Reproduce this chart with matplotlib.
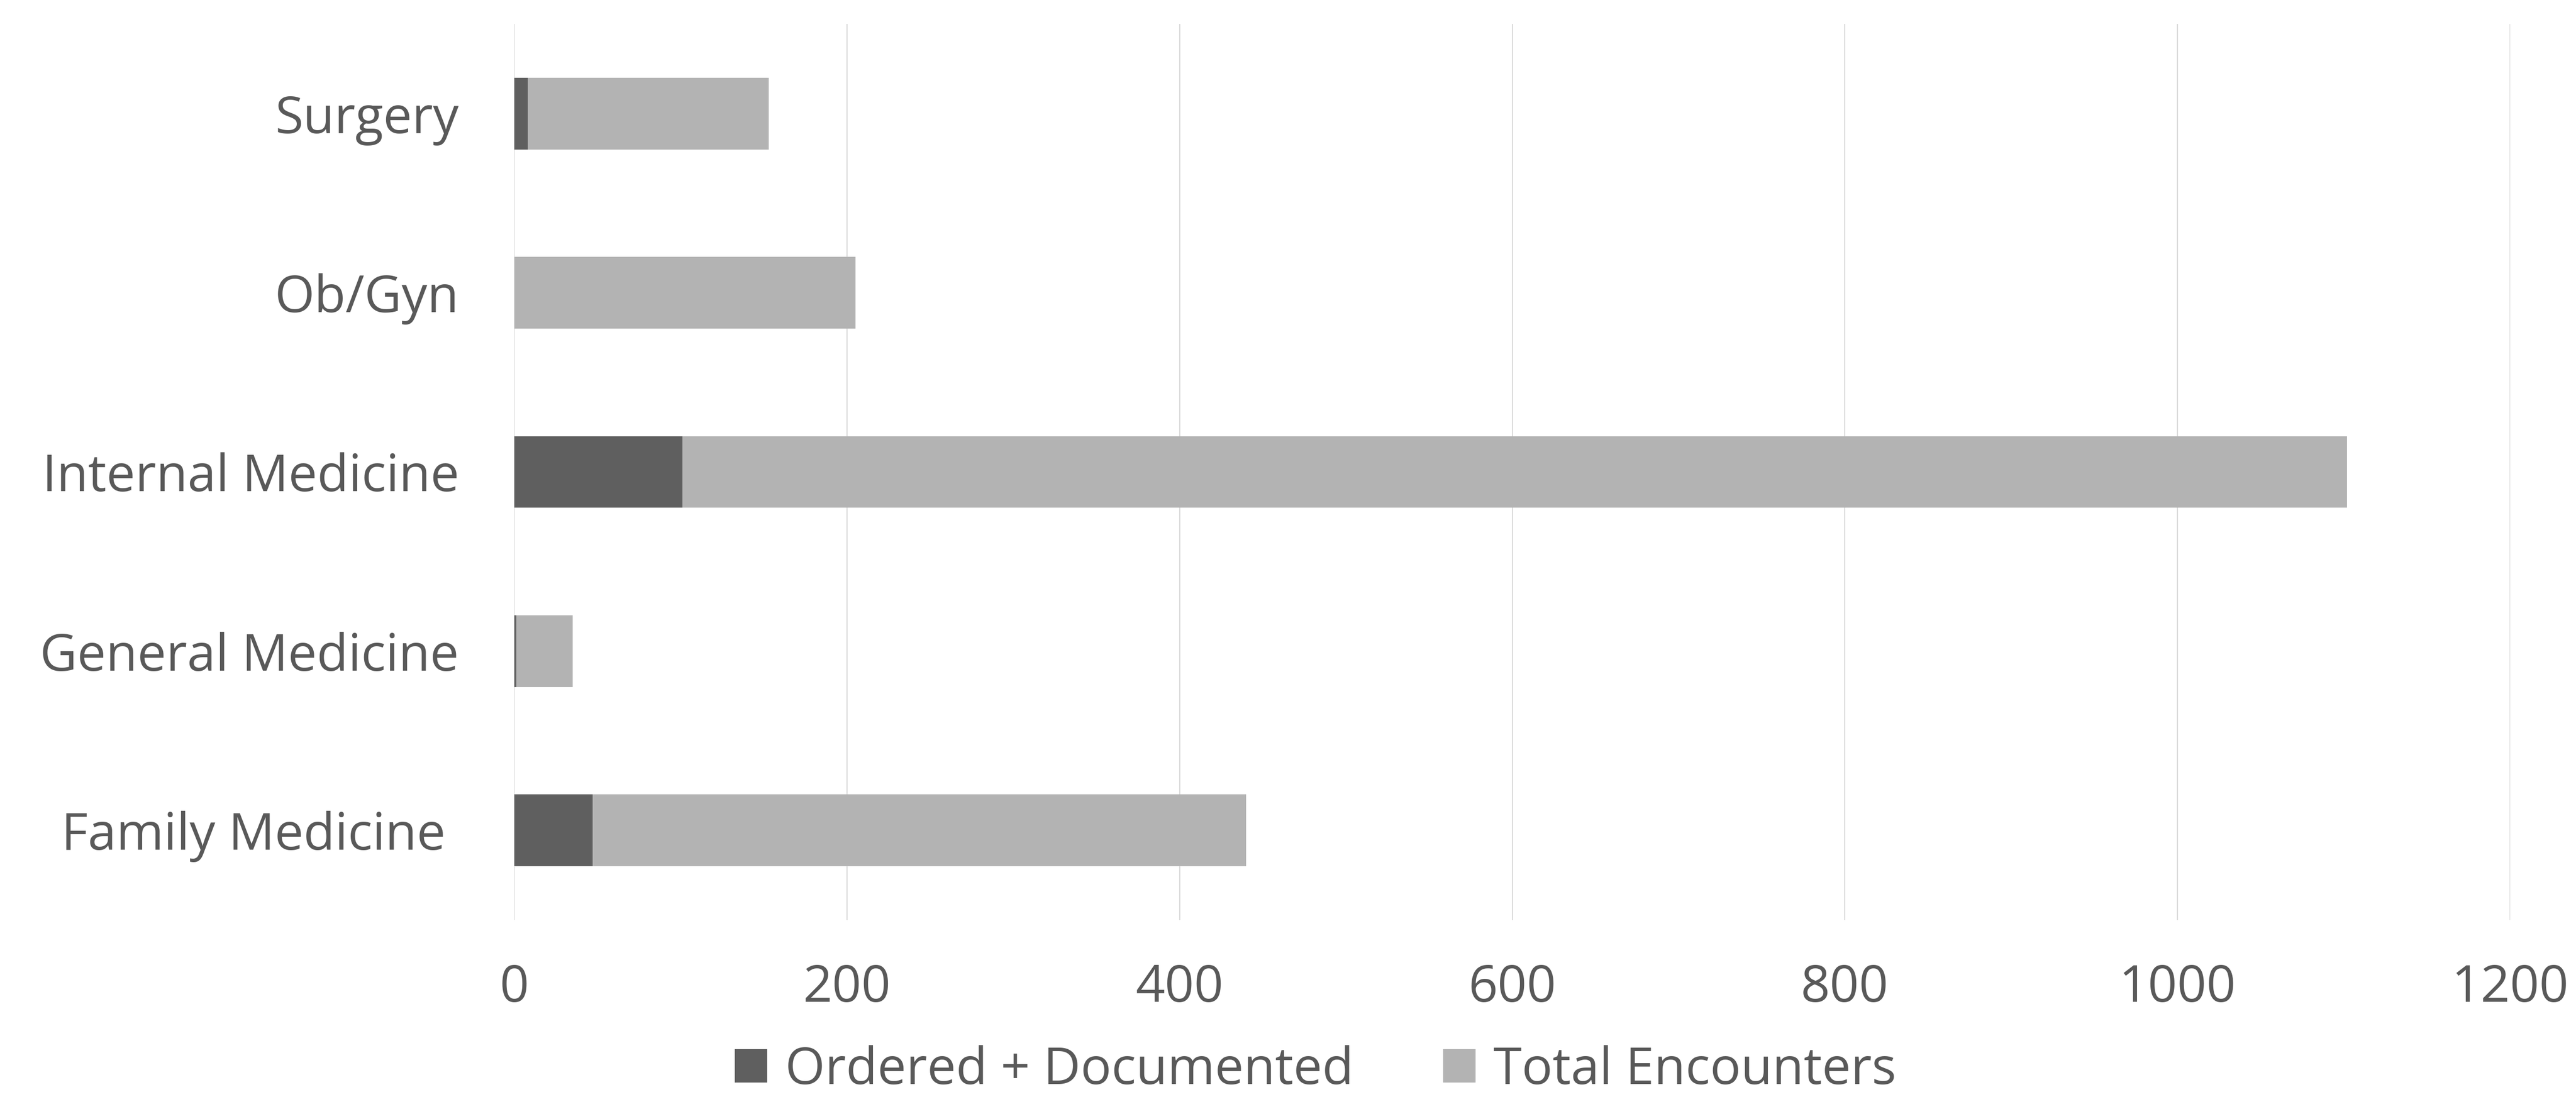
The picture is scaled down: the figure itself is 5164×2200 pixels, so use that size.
import matplotlib
matplotlib.use("Agg")
from matplotlib import pyplot as plt
import numpy as np

# data, bottom to top as drawn
specialties = ["Family Medicine ", "General Medicine", "Internal Medicine", "Ob/Gyn", "Surgery"]
ordered_documented = [47, 1, 101, 0, 8]
total_encounters = [440, 35, 1102, 205, 153]
x_ticks = [0, 200, 400, 600, 800, 1000, 1200]

dark = "#5f5f5f"
light = "#b3b3b3"
text_color = "#595959"
grid_color = "#d9d9d9"

plt.rcParams["font.family"] = ["Open Sans", "DejaVu Sans"]
font_size = 37

fig = plt.figure(figsize=(25.82, 11), dpi=200)
ax = fig.add_axes([0.1997, 0.1614, 0.9744 - 0.1997, 0.9782 - 0.1614])

y = np.arange(len(specialties))
remaining = np.array(total_encounters) - np.array(ordered_documented)

ax.barh(y, ordered_documented, height=0.4, color=dark, label="Ordered + Documented", zorder=3)
ax.barh(y, remaining, left=ordered_documented, height=0.4, color=light,
        label="Total Encounters", zorder=3)

ax.set_xlim(0, 1200)
ax.set_ylim(-0.5, len(specialties) - 0.5)
ax.set_xticks(x_ticks)
ax.set_yticks(y)
ax.set_yticklabels(specialties)
ax.grid(axis="x", color=grid_color, linewidth=0.8, zorder=0)
ax.grid(axis="y", visible=False)
for s in ax.spines.values():
    s.set_visible(False)
ax.tick_params(axis="both", length=0, labelsize=font_size, labelcolor=text_color)
ax.tick_params(axis="x", pad=31)
ax.tick_params(axis="y", pad=40)

# legend sits tight against the bottom edge, like the original
fig.legend(loc="center", bbox_to_anchor=(0.5107, 0.024), ncol=2, frameon=False,
           fontsize=font_size, labelcolor=text_color, handlelength=0.63,
           handleheight=0.63, handletextpad=0.35, columnspacing=1.75)

fig.savefig("out.png", dpi=200, facecolor="white")
